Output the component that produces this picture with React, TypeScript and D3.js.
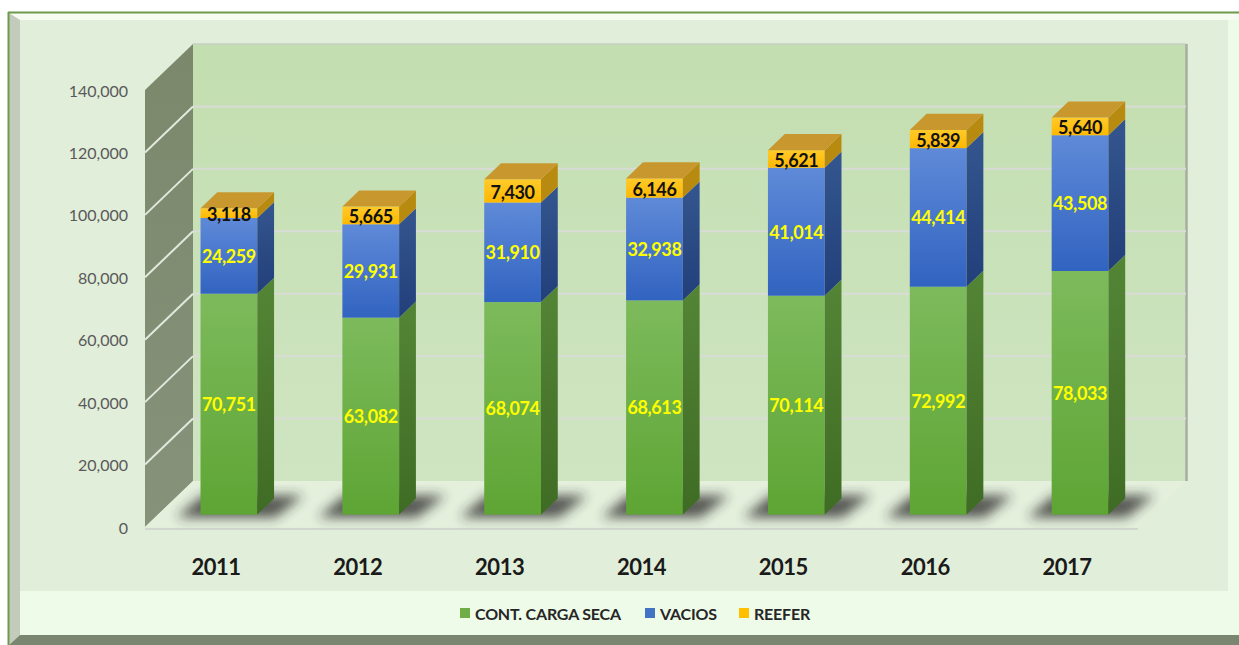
import React from "react";
import * as d3 from "d3";

// values
const years = ["2011", "2012", "2013", "2014", "2015", "2016", "2017"];
const cargaSeca = [70751, 63082, 68074, 68613, 70114, 72992, 78033];
const vacios = [24259, 29931, 31910, 32938, 41014, 44414, 43508];
const reefer = [3118, 5665, 7430, 6146, 5621, 5839, 5640];
const yTicks = [0, 20000, 40000, 60000, 80000, 100000, 120000, 140000];
const seriesKeys = ["seca", "vacios", "reefer"];
const seriesNames = ["CONT. CARGA SECA", "VACIOS", "REEFER"];

const W = 1239;
const H = 645;
const FONT = "Lato, 'Open Sans', sans-serif";

// 3d depth of the floor / walls, and where the bars sit inside it
const DX = 48;
const DY = -46;
const F0 = 0.27;
const F1 = 0.62;

const fronts = ["url(#gFront)", "url(#bFront)", "url(#yFront)"];
const sides = ["url(#gSide)", "url(#bSide)", "#b98a10"];
const labelColors = ["#ffff00", "#ffff00", "#111111"];
const legendColors = ["#70ad47", "#4472c4", "#ffc000"];

const poly = (pts: number[][]) => "M" + pts.map((p) => p.join(",")).join("L") + "Z";

export default function App() {
  const x = d3
    .scaleBand<string>()
    .domain(years)
    .range([145, 1138])
    .paddingInner(0.6)
    .paddingOuter(0.3);
  const y = d3.scaleLinear().domain([0, 140000]).range([527, 90]);

  const rows = years.map((yr, i) => ({
    year: yr,
    seca: cargaSeca[i],
    vacios: vacios[i],
    reefer: reefer[i],
  }));
  const layers = d3.stack<any>().keys(seriesKeys)(rows);

  const bw = x.bandwidth();
  const [x0, x1] = x.range();
  const ox = DX * F0;
  const oy = DY * F0;
  const bdx = DX * (F1 - F0);
  const bdy = DY * (F1 - F0);
  const yTop = y(140000);
  const yBase = y(0);

  const fmt = d3.format(",");

  // legend layout
  const legendX = [460, 645, 739];

  return (
    <div>
      <style>{"body{margin:0}"}</style>
      <svg width={W} height={H} style={{ display: "block" }}>
        <defs>
          <linearGradient id="gFront" x1="0" y1="0" x2="0" y2="1">
            <stop offset="0" stopColor="#7dba5c" />
            <stop offset="1" stopColor="#5ea534" />
          </linearGradient>
          <linearGradient id="bFront" x1="0" y1="0" x2="0" y2="1">
            <stop offset="0" stopColor="#5f8ad8" />
            <stop offset="1" stopColor="#3163c0" />
          </linearGradient>
          <linearGradient id="yFront" x1="0" y1="0" x2="0" y2="1">
            <stop offset="0" stopColor="#ffca2a" />
            <stop offset="1" stopColor="#ffb800" />
          </linearGradient>
          <linearGradient id="gSide" x1="0" y1="0" x2="0" y2="1">
            <stop offset="0" stopColor="#548536" />
            <stop offset="1" stopColor="#3f6c24" />
          </linearGradient>
          <linearGradient id="bSide" x1="0" y1="0" x2="0" y2="1">
            <stop offset="0" stopColor="#34568f" />
            <stop offset="1" stopColor="#223f7a" />
          </linearGradient>
          <linearGradient id="wall" x1="0" y1="0" x2="0" y2="1">
            <stop offset="0" stopColor="#c3deb0" />
            <stop offset="1" stopColor="#cfe5c2" />
          </linearGradient>
          <linearGradient id="sideWall" x1="0" y1="0" x2="0" y2="1">
            <stop offset="0" stopColor="#7b886b" />
            <stop offset="1" stopColor="#87927b" />
          </linearGradient>
          <filter id="blur" x="-50%" y="-50%" width="200%" height="200%">
            <feGaussianBlur stdDeviation="6" />
          </filter>
        </defs>

        {/* frame */}
        <rect x={0} y={0} width={W} height={H} fill="#ffffff" />
        <rect x={8} y={12} width={W - 8} height={H - 12} fill="#effbe9" />
        <path d={poly([[9, 13], [W, 13], [W, 20], [20, 20]])} fill="#f6fcf2" />
        <path d={poly([[9, 13], [20, 20], [20, 635], [9, H]])} fill="#c3cbbc" />
        <path d={poly([[20, 635], [W, 635], [W, H], [9, H]])} fill="#7a8670" />
        <line x1={8} y1={12.5} x2={W} y2={12.5} stroke="#6d9a4c" strokeWidth={2} />
        <line x1={8.5} y1={12} x2={8.5} y2={H} stroke="#6d9a4c" strokeWidth={2} />
        <rect x={20} y={20} width={1208} height={571} fill="#e1eed9" />

        {/* walls and floor */}
        <rect
          x={x0 + DX}
          y={yTop + DY}
          width={x1 - x0}
          height={yBase - yTop}
          fill="url(#wall)"
        />
        <line
          x1={x0 + DX}
          y1={yTop + DY}
          x2={x1 + DX}
          y2={yTop + DY}
          stroke="#c9cec4"
          strokeWidth={1.5}
        />
        <line
          x1={x1 + DX + 0.5}
          y1={yTop + DY}
          x2={x1 + DX + 0.5}
          y2={yBase + DY}
          stroke="#a7aea1"
          strokeWidth={2.5}
        />
        <path
          d={poly([[x0, yTop], [x0 + DX, yTop + DY], [x0 + DX, yBase + DY], [x0, yBase]])}
          fill="url(#sideWall)"
        />
        <path
          d={poly([[x0, yBase], [x1, yBase], [x1 + DX, yBase + DY], [x0 + DX, yBase + DY]])}
          fill="#e4efdc"
        />
        <line x1={x0} y1={yBase + 2} x2={x1} y2={yBase + 2} stroke="#d2d7cd" strokeWidth={2} />

        {/* gridlines */}
        {yTicks.slice(1, -1).map((v) => (
          <g key={v}>
            <line
              x1={x0 + DX}
              y1={y(v) + DY}
              x2={x1 + DX}
              y2={y(v) + DY}
              stroke="#d9dcd6"
              strokeWidth={2}
            />
            <line
              x1={x0}
              y1={y(v)}
              x2={x0 + DX}
              y2={y(v) + DY}
              stroke="#e2e8dc"
              strokeWidth={2}
            />
          </g>
        ))}

        {/* y axis labels */}
        {yTicks.map((v) => (
          <text
            key={v}
            x={128}
            y={y(v)}
            textAnchor="end"
            dominantBaseline="central"
            fontFamily={FONT}
            fontSize={16}
            fill="#595959"
          >
            {fmt(v)}
          </text>
        ))}

        {/* bars */}
        {years.map((yr, i) => {
          const bx = (x(yr) as number) + ox;
          const by = yBase + oy;
          return (
            <g key={yr}>
              <path
                d={poly([
                  [bx - 24, by + 3],
                  [bx + bw + 18, by + 3],
                  [bx + bw + 46, by - 19],
                  [bx + 2, by - 19],
                ])}
                fill="#262626"
                opacity={0.75}
                filter="url(#blur)"
              />
              {layers.map((layer, k) => {
                const d = layer[i];
                const top = y(d[1]) + oy;
                const bot = y(d[0]) + oy;
                return (
                  <g key={k}>
                    <rect x={bx} y={top} width={bw} height={bot - top} fill={fronts[k]} />
                    <path
                      d={poly([
                        [bx + bw, top],
                        [bx + bw + bdx, top + bdy],
                        [bx + bw + bdx, bot + bdy],
                        [bx + bw, bot],
                      ])}
                      fill={sides[k]}
                    />
                    {k === layers.length - 1 && (
                      <path
                        d={poly([
                          [bx, top],
                          [bx + bdx, top + bdy],
                          [bx + bw + bdx, top + bdy],
                          [bx + bw, top],
                        ])}
                        fill="#c8982f"
                      />
                    )}
                  </g>
                );
              })}
            </g>
          );
        })}

        {/* value labels */}
        {years.map((yr, i) => {
          const cx = (x(yr) as number) + ox + bw / 2;
          return layers.map((layer, k) => {
            const d = layer[i];
            const cy = (y(d[1]) + y(d[0])) / 2 + oy + (k === 2 ? 1 : 0);
            return (
              <text
                key={yr + k}
                x={cx}
                y={cy}
                textAnchor="middle"
                dominantBaseline="central"
                fontFamily={FONT}
                fontWeight="bold"
                fontSize={18}
                letterSpacing={-0.4}
                fill={labelColors[k]}
              >
                {fmt(d[1] - d[0])}
              </text>
            );
          });
        })}

        {/* category labels */}
        {years.map((yr) => (
          <text
            key={yr}
            x={(x(yr) as number) + bw / 2}
            y={566}
            textAnchor="middle"
            dominantBaseline="central"
            fontFamily={FONT}
            fontWeight="bold"
            fontSize={22}
            letterSpacing={-0.5}
            fill="#1a1a1a"
          >
            {yr}
          </text>
        ))}

        {/* legend */}
        {seriesNames.map((name, k) => (
          <g key={name}>
            <rect x={legendX[k]} y={608} width={10} height={10} fill={legendColors[k]} />
            <text
              x={legendX[k] + 15}
              y={613}
              dominantBaseline="central"
              fontFamily={FONT}
              fontWeight="bold"
              fontSize={16}
              letterSpacing={-0.2}
              fill="#262626"
            >
              {name}
            </text>
          </g>
        ))}
      </svg>
    </div>
  );
}
